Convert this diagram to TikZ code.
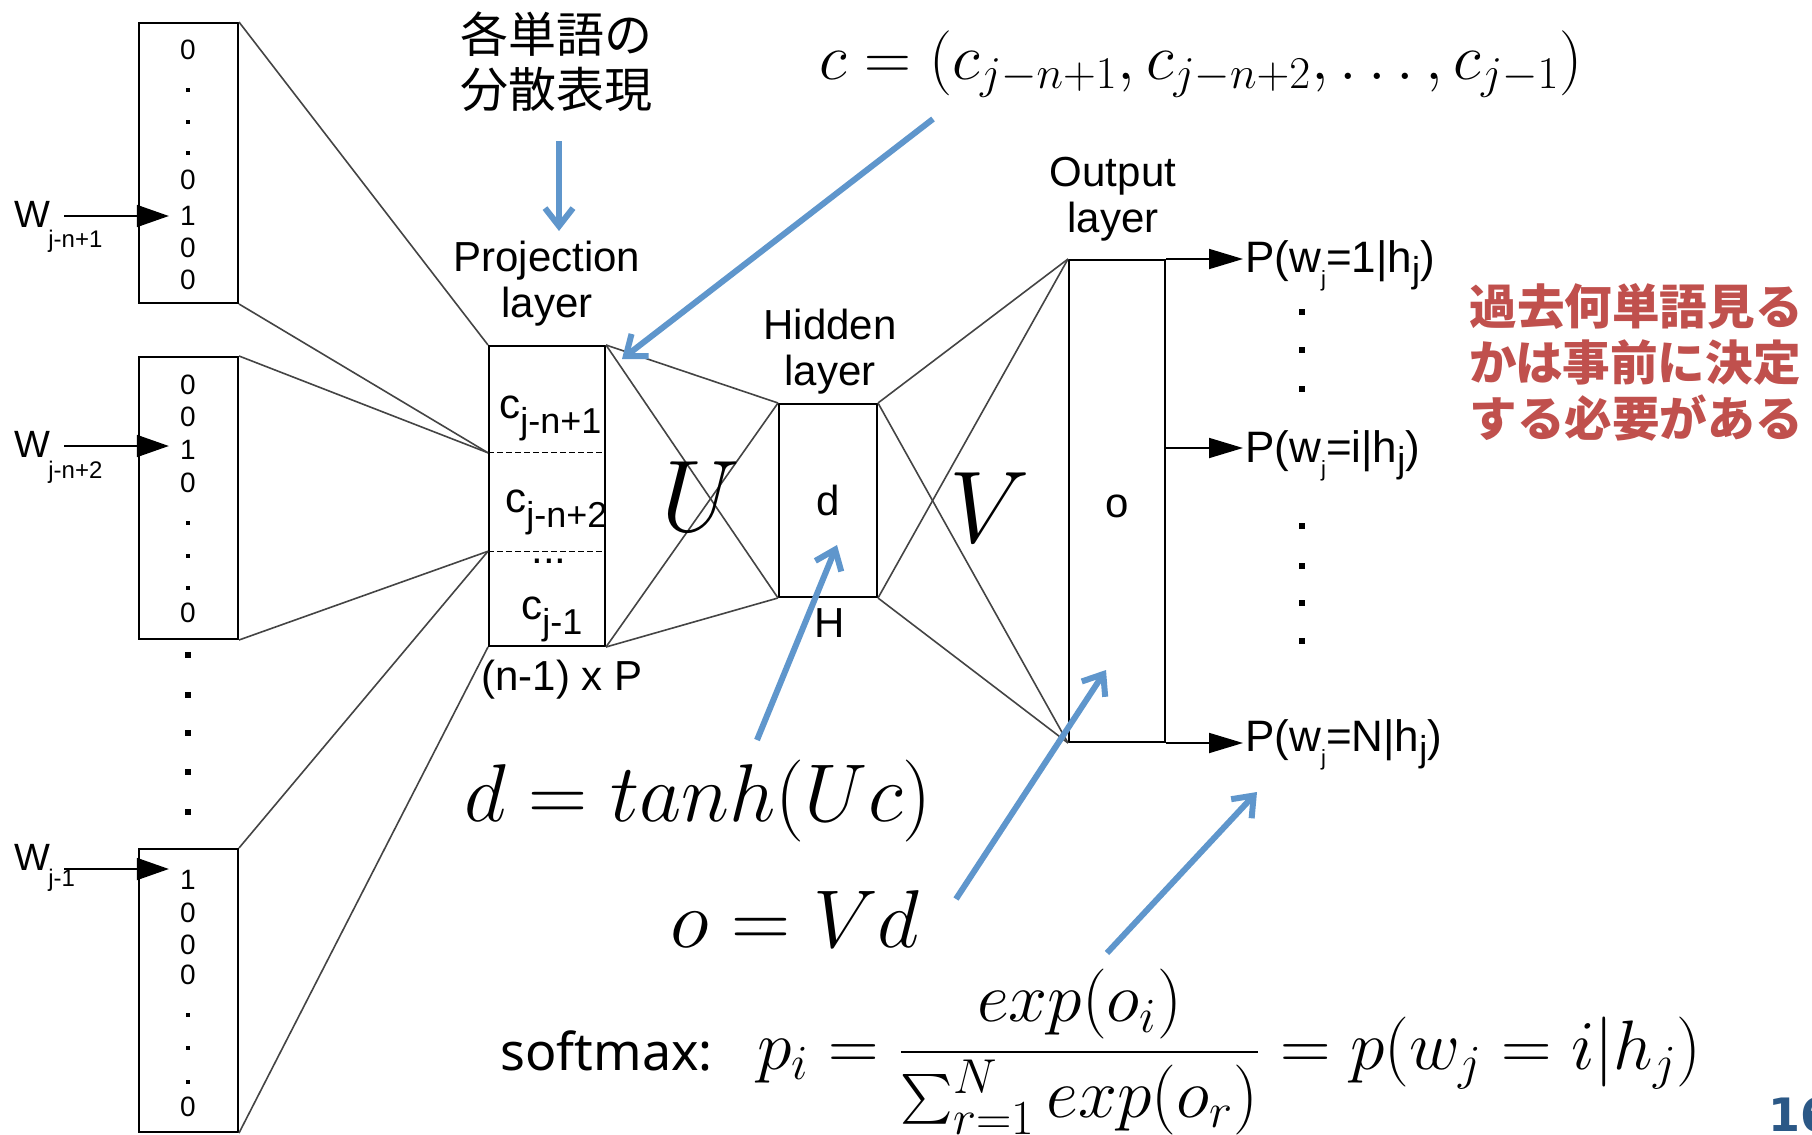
\RequirePackage{fix-cm}
\documentclass[tikz,border=0pt]{standalone}
\usepackage{exscale}
\usepackage[no-math]{fontspec}
\setmainfont{Liberation Sans}
\newfontfamily\jpfont{Noto Sans CJK JP}
\newfontfamily\notofont{Noto Sans}
\newfontfamily\pagfont{DejaVu Sans}
\usetikzlibrary{arrows.meta, positioning, calc}
\definecolor{colorFlecha}{HTML}{5F96CC}
\definecolor{rojoNota}{HTML}{C0504D}
\definecolor{azulPagina}{HTML}{2B5886}
\definecolor{grisLinea}{HTML}{444444}
\newcommand{\fs}[2]{\fontsize{#1}{#2}\selectfont}
\newcommand{\subi}[3]{\raisebox{#1}{\fs{#2}{#2}#3}}

\begin{document}
\begin{tikzpicture}[x=0.5pt, y=-0.5pt,
        vec/.style={draw, line width=1pt, minimum width=49.5pt, inner sep=0pt},
        capa/.style={draw, line width=1pt, inner sep=0pt, font=\fs{21}{22}},
        dig/.style={font=\fs{14}{16}, inner sep=0pt},
        vdot/.style={fill, inner sep=0pt, minimum size=2pt},
        sq/.style={fill, inner sep=0pt, minimum size=2.8pt},
        lbl/.style={font=\fs{21}{23}, align=center, inner sep=0pt},
        clbl/.style={font=\fs{21}{22}, inner sep=0pt, anchor=base west},
        plbl/.style={font=\fs{22}{24}, inner sep=1pt, anchor=base west},
        wlbl/.style={font=\fs{19}{20}, inner sep=0pt},
        wsub/.style={font=\fs{12}{14}, inner sep=0pt, anchor=west},
        rel/.style={grisLinea, line width=0.8pt},
        ent/.style={-{Triangle[length=16pt,width=11pt]}, line width=0.9pt},
        sal/.style={-{Triangle[length=17pt,width=10pt]}, line width=0.9pt},
        flecha/.style={-{Straight Barb[length=9pt,width=14pt]}, colorFlecha, line width=3pt}
    ]
        \fill[white] (0,0) rectangle (1812,1135);
        \useasboundingbox (0,0) rectangle (1812,1135);

        % one-hot inputs
        \node[vec, minimum height=140pt] (in1) at (188.5,163) {};
        \node[vec, minimum height=141pt] (in2) at (188.5,498) {};
        \node[vec, minimum height=141.5pt] (in3) at (188.5,990.5) {};

        \foreach \y/\t in {50/0,180/0,248/0,280/0} \node[dig] (a\y) at (188,\y) {\t};
        \node[dig] (u1) at (188,216) {1};
        \foreach \y in {90,122,153} \node[vdot] (va\y) at (188,\y) {};

        \foreach \y/\t in {385/0,417/0,483/0,613/0} \node[dig] (b\y) at (188,\y) {\t};
        \node[dig] (u2) at (188,450) {1};
        \foreach \y in {523,556,588} \node[vdot] (vb\y) at (188,\y) {};

        \foreach \y/\t in {913/0,945/0,975/0,1107/0} \node[dig] (c\y) at (188,\y) {\t};
        \node[dig] (u3) at (188,880) {1};
        \foreach \y in {1015,1048,1082} \node[vdot] (vc\y) at (188,\y) {};

        \foreach \y in {655,695,733,772,812} \node[sq] (m\y) at (188,\y) {};

        \node[wlbl] (w1) at (32,214) {W};
        \node[wsub] (w1s) at (48,241) {j-n+1};
        \node[wlbl] (w2) at (32,444) {W};
        \node[wsub] (w2s) at (48,472) {j-n+2};
        \node[wlbl] (w3) at (32,857) {W};
        \node[wsub] (w3s) at (48,880) {j-1};

        \draw[ent, shorten <=7pt, shorten >=5.5pt] (u1.west -| w1.east) -- (u1.west);
        \coordinate (u2a) at ([yshift=2pt]u2.west);
        \draw[ent, shorten <=7pt, shorten >=5.5pt] (u2a -| w2.east) -- (u2a);
        \coordinate (u3a) at ([yshift=5.5pt]u3.west);
        \draw[ent, shorten <=7pt, shorten >=5.5pt] (u3a -| w3.east) -- (u3a);

        % projection layer
        \node[capa, minimum width=58pt, minimum height=150pt] (proj) at (547,496) {};
        \node[lbl] (projlbl) at (547,284) {Projection\\layer};
        \coordinate (pa) at ($(proj.north west)!0.357!(proj.south west)$);
        \coordinate (pb) at ($(proj.north west)!0.683!(proj.south west)$);
        \draw[dashed, dash pattern=on 3pt off 1.5pt, line width=0.6pt] (pa) -- (pa -| proj.east);
        \draw[dashed, dash pattern=on 3pt off 1.5pt, line width=0.6pt] (pb) -- (pb -| proj.east);
        \node[clbl] (cp1) at (499,418) {c\subi{-7.5pt}{18}{j-n+1}};
        \node[clbl] (cp2) at (505,512) {c\subi{-7.5pt}{18}{j-n+2}};
        \node[clbl] (cpd) at (531,563) {...};
        \node[clbl] (cp3) at (521,619) {c\subi{-7.5pt}{18}{j-1}};
        \node[lbl] (projdim) at (562,680) {(n-1) x P};

        \draw[rel] (in1.north east) -- (proj.north west);
        \draw[rel] (in1.south east) -- (pa);
        \draw[rel] (in2.north east) -- (pa);
        \draw[rel] (in2.south east) -- (pb);
        \draw[rel] (in3.north east) -- (pb);
        \draw[rel] (in3.south east) -- (proj.south west);

        % hidden and output layers
        \node[capa, minimum width=49pt, minimum height=96.5pt] (hid) at (828,500.5) {d};
        \node[lbl] (hidlbl) at (830,352) {Hidden\\layer};
        \node[lbl] (hidH) at (830,623) {H};
        \node[capa, minimum width=48pt, minimum height=241pt] (out) at (1117,501) {};
        \node[lbl] (olbl) at (1117,506) {o};
        \node[lbl] (outlbl) at (1113,199) {Output\\layer};

        \draw[rel] (proj.north east) -- (hid.north west);
        \draw[rel] (proj.north east) -- (hid.south west);
        \draw[rel] (proj.south east) -- (hid.north west);
        \draw[rel] (proj.south east) -- (hid.south west);
        \draw[rel] (hid.north east) -- (out.north west);
        \draw[rel] (hid.north east) -- (out.south west);
        \draw[rel] (hid.south east) -- (out.north west);
        \draw[rel] (hid.south east) -- (out.south west);

        \node[font=\fs{51}{60}, inner sep=0pt] (mU) at (701,497) {$U$};
        \node[font=\fs{51}{60}, inner sep=0pt] (mV) at (990,508) {$V$};

        % outputs
        \node[plbl] (p1) at (1243,272) {P(w\subi{-7pt}{11}{j}=1|h\subi{-5pt}{18}{j})};
        \node[plbl] (p2) at (1243,462) {P(w\subi{-7pt}{11}{j}=i|h\subi{-5pt}{18}{j})};
        \node[plbl] (p3) at (1243,751) {P(w\subi{-7pt}{11}{j}=N|h\subi{-5pt}{18}{j})};
        \draw[sal] (out.north east) -- (out.north east -| p1.west);
        \coordinate (o2) at ([yshift=26.5pt]out.east);
        \draw[sal] (o2) -- (o2 -| p2.west);
        \draw[sal] (out.south east) -- (out.south east -| p3.west);
        \foreach \y in {312,350,389,526,566,603,641} \node[sq] (s\y) at (1302,\y) {};

        % notes and formulas
        \node[font=\jpfont\fs{24}{27.5}, align=center, inner sep=0pt] (bunsan) at (556,62) {各単語の\\分散表現};
        \node[font=\jpfont\bfseries\fs{23.8}{28}, text=rojoNota, align=left, inner sep=0pt] (nota) at (1636,362) {過去何単語見る\\かは事前に決定\\する必要がある};
        \node[font=\fs{32.5}{36}, inner sep=0pt] (cvec) at (1201,64) {$c=(c_{j-n+1},c_{j-n+2},\ldots,c_{j-1})$};
        \node[font=\fs{41}{48}, inner sep=0pt] (dform) at (698,801) {$d=tanh(Uc)$};
        \node[font=\fs{41}{48}, inner sep=0pt] (oform) at (795,919) {$o=Vd$};
        \node[font=\notofont\fs{26}{30}, inner sep=0pt, anchor=base west] (smx) at (500,1070) {softmax:};
        \node[font=\fs{35}{40}, inner sep=0pt, anchor=west] (smf) at (757,1052)
            {$\displaystyle p_i=\frac{exp(o_i)}{\sum_{r=1}^N exp(o_r)}=p(w_j=i|h_j)$};
        \node[font=\pagfont\bfseries\fs{23}{28}, text=azulPagina, anchor=west, inner sep=0pt] (pagina) at (1768,1115) {16};

        \coordinate (f1a) at (559,141);  \coordinate (f1b) at (559,231);
        \coordinate (f2a) at (933,119);  \coordinate (f2b) at (622,359);
        \coordinate (f3a) at (757,740);  \coordinate (f3b) at (837,545);
        \coordinate (f4a) at (956,899);  \coordinate (f4b) at (1106,670);
        \coordinate (f5a) at (1107,953); \coordinate (f5b) at (1257,792);
        \foreach \i in {1,...,5} \draw[flecha] (f\i a) -- (f\i b);
    \end{tikzpicture}
\end{document}
